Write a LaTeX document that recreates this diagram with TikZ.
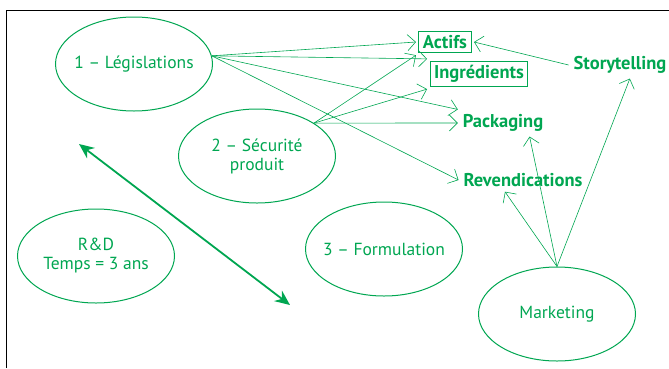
\documentclass[tikz,border=0pt]{standalone}
\usepackage{fontspec}
\setmainfont{PT Sans}
\usetikzlibrary{shapes.geometric,arrows.meta}
\definecolor{vert}{RGB}{0,166,81}
\tikzset{
  bulle/.style={ellipse,draw=vert,line width=1pt,text=vert,minimum width=157pt,
    minimum height=94pt,inner sep=-10pt,align=center,font=\fontsize{17.5}{19}\selectfont},
  cible/.style={text=vert,font=\bfseries\fontsize{18.5}{20}\selectfont,inner sep=2pt,outer sep=3pt},
  cadre/.style={cible,draw=vert,line width=1pt,inner xsep=4pt,inner ysep=3.5pt},
  fleche/.style={draw=vert,line width=0.6pt,-{Straight Barb[length=8pt,width=16pt]}},
  duree/.style={draw=vert,line width=1.8pt,{Stealth[length=15pt,width=13pt]}-{Stealth[length=15pt,width=13pt]}}
}
\begin{document}
\begin{tikzpicture}[x=1pt,y=-1pt]
\useasboundingbox (0,0) rectangle (669,368);
\draw[line width=0.8pt] (6,368) -- (6,10) -- (669,10);
% les bulles
\node[bulle] (leg) at (134,64) {1 -- Législations};
\node[bulle] (secu) at (257,156) {2 -- Sécurité\\produit};
\node[bulle] (rd) at (96,256) {R\&D\\Temps = 3 ans};
\node[bulle] (formu) at (384,249) {3 -- Formulation};
\node[bulle] (mark) at (557,314) {Marketing};
% les cibles
\node[cadre] (actifs) at (445,42) {Actifs};
\node[cadre] (ingr) at (479,74) {Ingrédients};
\node[cible] (story) at (620,65) {Storytelling};
\node[cible] (pack) at (503,123) {Packaging};
\node[cible] (revend) at (523,180) {Revendications};
% les fleches
\foreach \c in {actifs.west,ingr.north west,pack.north west,revend.west}
{
    \draw[fleche] (leg.6) -- (\c);
}
\foreach \c in {actifs.south west,ingr.south west,pack.west}
{
    \draw[fleche] (secu.30) -- (\c);
}
\foreach \c in {revend.213,pack.333,story.306}
{
    \draw[fleche] (mark.north) -- (\c);
}
\draw[fleche] (story.west) -- (actifs.east);
\coordinate (haut) at (79,144);
\coordinate (bas) at (290,305);
\draw[duree] (haut) -- (bas);
\end{tikzpicture}
\end{document}
